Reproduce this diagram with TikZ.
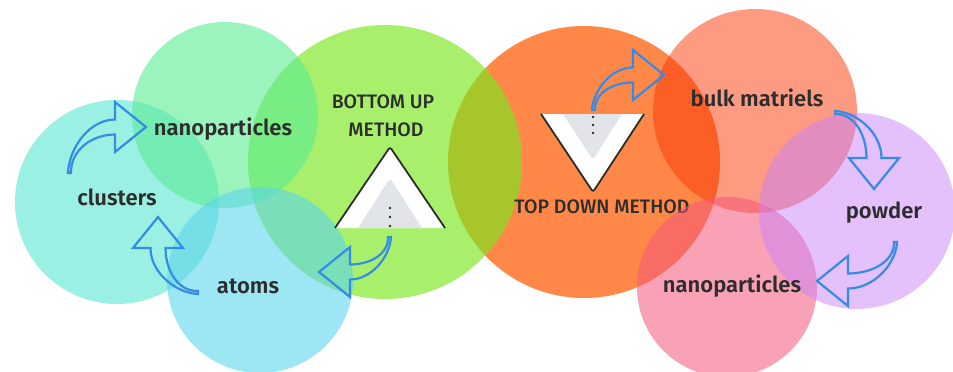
\documentclass[tikz,border=0pt]{standalone}
\usepackage{fontspec}
\setmainfont{Fira Sans}
\IfFontExistsTF{Fira Sans SemiBold}{\newfontfamily\labfont{Fira Sans SemiBold}}{%
  \IfFontExistsTF{Fira Sans Medium}{\newfontfamily\labfont{Fira Sans Medium}}{\newfontfamily\labfont{Fira Sans}}}
\IfFontExistsTF{Fira Sans Medium}{\newfontfamily\capfont{Fira Sans Medium}}{\newfontfamily\capfont{Fira Sans}}
\definecolor{corange}{RGB}{255,136,72}
\definecolor{cgreen}{RGB}{121,232,29}
\definecolor{cbulk}{RGB}{249,55,5}
\definecolor{cpink}{RGB}{244,85,122}
\definecolor{cpurple}{RGB}{201,129,249}
\definecolor{ccluster}{RGB}{88,230,210}
\definecolor{cnano}{RGB}{88,235,147}
\definecolor{catoms}{RGB}{92,213,235}
\definecolor{arrowblue}{RGB}{52,140,230}
\definecolor{txt}{RGB}{45,45,45}
\definecolor{tgrey}{RGB}{225,228,232}
\newcommand\CurvArrow[5]{%
  \begin{scope}[shift={(#1,#2)},rotate=#3]
    \draw[barrow] (0,7.5) .. controls ({0.55*(#4)},7.5) and (#4,{0.45*(#5)}) .. ({(#4)-1},#5)
      -- ({(#4)+2},#5) .. controls ({(#4)+1.5},{0.5*(#5)}) and ({0.5*(#4)},-7.5) .. (0,-7.5)
      -- (0,-25) -- (31,0) -- (0,25) -- cycle;
  \end{scope}}
\begin{document}
\begin{tikzpicture}[x=1pt,y=1pt,
  blob/.style={circle,draw=none,inner sep=0pt,minimum size=#1},
  lab/.style={font=\labfont\fontsize{22}{26}\selectfont,text=txt,anchor=base,inner sep=0pt},
  caplab/.style={font=\capfont\fontsize{19.5}{23}\selectfont,text=txt,anchor=base,inner sep=0pt},
  barrow/.style={draw=arrowblue,line width=2.2pt,fill=none},
  triline/.style={draw=txt,line width=1.8pt,rounded corners=2.5pt},
  dotc/.style={fill=txt}]
\useasboundingbox (0,0) rectangle (953,-372);
% big method circles
\node[blob=272,fill=corange] (orangec) at (584,-162) {};
\node[blob=274,fill=cgreen,fill opacity=0.65] (greenc) at (385,-162) {};
% top down label (under the pink circle)
\node[caplab] (topdown) at (602,-213) {TOP DOWN METHOD};
% right circles
\node[blob=204,fill=cbulk,fill opacity=0.5] (bulkc) at (755,-111) {};
\node[blob=180,fill=cpink,fill opacity=0.55] (pinkc) at (727,-287) {};
\node[blob=196,fill=cpurple,fill opacity=0.5] (purplec) at (857,-211) {};
% left circles
\node[blob=204,fill=ccluster,fill opacity=0.6] (clusterc) at (117,-202) {};
\node[blob=186,fill=cnano,fill opacity=0.6] (nanoc) at (225,-115) {};
\node[blob=186,fill=catoms,fill opacity=0.6] (atomsc) at (260,-280) {};
% bottom up triangle
\fill[white] (335,-228) -- (390,-147) -- (445,-228) -- cycle;
\fill[tgrey] (358,-228) [rounded corners=4pt] -- (390,-178) [sharp corners] -- (422,-228) -- cycle;
\draw[triline] (335,-228) -- (390,-147) -- (445,-228);
\fill[dotc] (390,-208) circle (1.3) (390,-217) circle (1.3) (390,-226) circle (1.3);
% top down triangle
\fill[white] (541,-114) -- (593,-192) -- (644,-114) -- cycle;
\fill[tgrey] (563,-114) [rounded corners=4pt] -- (593,-160) [sharp corners] -- (622,-114) -- cycle;
\draw[triline] (541,-114) -- (593,-192) -- (644,-114);
\fill[dotc] (593,-117) circle (1.3) (593,-125) circle (1.3) (593,-133) circle (1.3);
% labels
\node[lab] (nanoL) at (223,-135) {nanoparticles};
\node[lab] (clusters) at (117,-205) {clusters};
\node[lab] (atoms) at (248,-293) {atoms};
\node[caplab] (bu1) at (383,-108) {BOTTOM UP};
\node[caplab] (bu2) at (386,-136) {METHOD};
\node[lab] (bulk) at (757,-106) {bulk matriels};
\node[lab] (powder) at (884,-218) {powder};
\node[lab] (nanoR) at (732,-292) {nanoparticles};
% curved block arrows
\CurvArrow{115}{-127}{0}{-46}{-46}
\CurvArrow{158}{-248}{90}{-45}{-40}
\CurvArrow{350}{-272}{180}{-40}{-35}
\CurvArrow{633}{-75}{0}{-40}{-35}
\CurvArrow{874}{-158}{-90}{-46}{-39}
\CurvArrow{848}{-281}{180}{-48}{-39}
\end{tikzpicture}
\end{document}
